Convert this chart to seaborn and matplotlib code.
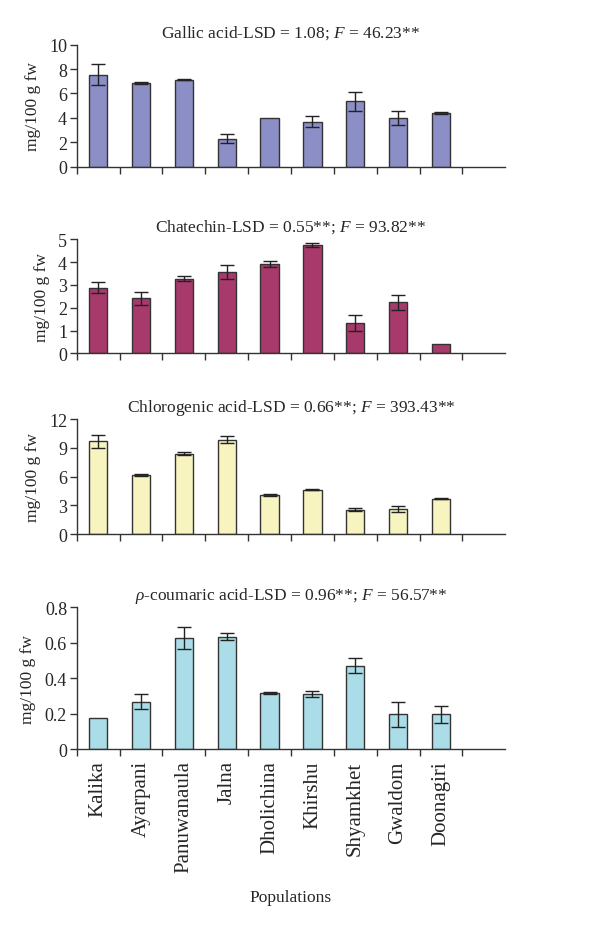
import numpy as np
import pandas as pd
import matplotlib
matplotlib.use("Agg")
import matplotlib.pyplot as plt
import seaborn as sns

populations = ["Kalika", "Ayarpani", "Panuwanaula", "Jalna", "Dholichina",
               "Khirshu", "Shyamkhet", "Gwaldom", "Doonagiri"]

gallic = [7.55, 6.88, 7.13, 2.3, 4.0, 3.7, 5.35, 4.0, 4.4]
gallic_err = [0.85, 0.09, 0.04, 0.35, 0.0, 0.45, 0.8, 0.55, 0.12]

chatechin = [2.88, 2.41, 3.27, 3.57, 3.92, 4.75, 1.35, 2.24, 0.41]
chatechin_err = [0.24, 0.3, 0.1, 0.3, 0.13, 0.08, 0.35, 0.32, 0.0]

chlorogenic = [9.7, 6.17, 8.42, 9.85, 4.06, 4.63, 2.56, 2.58, 3.7]
chlorogenic_err = [0.7, 0.13, 0.13, 0.35, 0.09, 0.07, 0.18, 0.33, 0.05]

coumaric = [0.175, 0.268, 0.624, 0.635, 0.317, 0.31, 0.47, 0.197, 0.197]
coumaric_err = [0.0, 0.043, 0.062, 0.02, 0.008, 0.018, 0.042, 0.07, 0.048]

titles = [
    r"Gallic acid-LSD = 1.08; $F$ = 46.23**",
    r"Chatechin-LSD = 0.55**; $F$ = 93.82**",
    r"Chlorogenic acid-LSD = 0.66**; $F$ = 393.43**",
    r"$\rho$-coumaric acid-LSD = 0.96**; $F$ = 56.57**",
]
colors = ["#8b8fc6", "#a8396b", "#f7f4c0", "#aadde8"]
yticks = [[0, 2, 4, 6, 8, 10], [0, 1, 2, 3, 4, 5], [0, 3, 6, 9, 12],
          [0, 0.2, 0.4, 0.6, 0.8]]
yticklabels = [["0", "2", "4", "6", "8", "10"], ["0", "1", "2", "3", "4", "5"],
               ["0", "3", "6", "9", "12"], ["0", "0.2", "0.4", "0.6", "0.8"]]

sns.set_style("white")
plt.rcParams["font.family"] = ["Liberation Serif", "DejaVu Serif"]
plt.rcParams["mathtext.fontset"] = "custom"
plt.rcParams["mathtext.rm"] = "Liberation Serif"
plt.rcParams["mathtext.it"] = "Liberation Serif:italic"

fig = plt.figure(figsize=(6, 9.29), dpi=100)

# axes boxes [left, bottom, width, height] in figure fraction
boxes = [
    [0.128, 0.8195, 0.714, 0.1313],
    [0.128, 0.6186, 0.714, 0.1227],
    [0.128, 0.4241, 0.714, 0.1235],
    [0.128, 0.1924, 0.714, 0.1529],
]

series = [(gallic, gallic_err), (chatechin, chatechin_err),
          (chlorogenic, chlorogenic_err), (coumaric, coumaric_err)]

for i, (vals, errs) in enumerate(series):
    ax = fig.add_axes(boxes[i])
    df = pd.DataFrame({"pop": populations, "val": vals})
    sns.barplot(data=df, x="pop", y="val", order=populations, color=colors[i],
                saturation=1, width=0.43, edgecolor="#333333", linewidth=1.0,
                errorbar=None, ax=ax)

    errs = np.array(errs)
    idx = np.where(errs > 0)[0]
    ax.errorbar(idx, np.array(vals)[idx], yerr=errs[idx], fmt="none",
                ecolor="#222222", elinewidth=1.0, capsize=5, capthick=1.0)

    ax.set_xlim(-0.5, 9.5)
    ax.set_ylim(yticks[i][0], yticks[i][-1])
    ax.set_yticks(yticks[i])
    ax.set_yticklabels(yticklabels[i], fontsize=13)

    ax.set_xticks(np.arange(-0.5, 9.0, 1.0))
    ax.set_xticklabels([])
    ax.set_xticks(np.arange(len(populations)), minor=True)
    if i == 3:
        ax.set_xticklabels(populations, minor=True, rotation=90, fontsize=15)
    else:
        ax.set_xticklabels([], minor=True)
    ax.tick_params(axis="x", which="major", direction="out", length=5,
                   width=1, color="#333333", bottom=True)
    ax.tick_params(axis="x", which="minor", length=0, pad=8)
    ax.tick_params(axis="y", direction="out", length=5, width=1,
                   color="#333333", left=True, pad=2)

    for side in ["top", "right"]:
        ax.spines[side].set_visible(False)
    for side in ["left", "bottom"]:
        ax.spines[side].set_color("#333333")
        ax.spines[side].set_linewidth(1.0)

    ax.set_xlabel("")
    ax.set_ylabel("mg/100 g fw", fontsize=12.5, labelpad=6)
    ax.set_title(titles[i], fontsize=12.5, pad=6)

fig.text(0.485, 0.033, "Populations", ha="center", va="center", fontsize=12.5)

fig.savefig("out.png", dpi=100)
